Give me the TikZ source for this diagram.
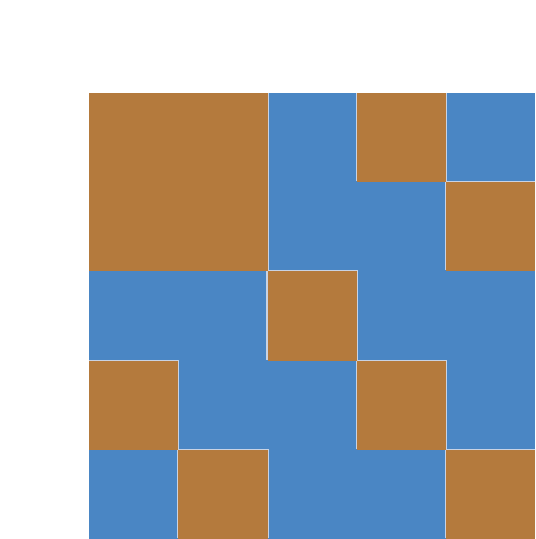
\documentclass[tikz,border=0pt]{standalone}
\definecolor{tileblue}{HTML}{4A86C4}
\definecolor{tilebrown}{HTML}{B47A3D}
\definecolor{tileseam}{HTML}{C9D3E4}
\begin{document}
\begin{tikzpicture}
        \tikzstyle{tile_blue}  = [fill = tileblue]
        \tikzstyle{tile_seam}  = [fill = tileseam]
        \tikzstyle{tile_brown} = [fill = tilebrown]

        \useasboundingbox (-1,0) rectangle (5,6.045);

        \begin{scope}
          \clip (0,0) rectangle (5,5);
          \fill[tile_blue] (0,0) rectangle (5,5);

          % brown tiles, given as column/row from the top left
          \foreach \c/\r in {1/1,2/1,4/1,1/2,2/2,5/2,3/3,1/4,4/4,2/5,5/5}
            \fill[tile_seam] (\c-1.012, 5.012-\r) rectangle (\c+0.012, 6.012-\r);
          \foreach \c/\r in {1/1,2/1,4/1,1/2,2/2,5/2,3/3,1/4,4/4,2/5,5/5}
            \fill[tile_brown] (\c-1, 5-\r) rectangle (\c, 6-\r);
        \end{scope}
      \end{tikzpicture}
\end{document}
